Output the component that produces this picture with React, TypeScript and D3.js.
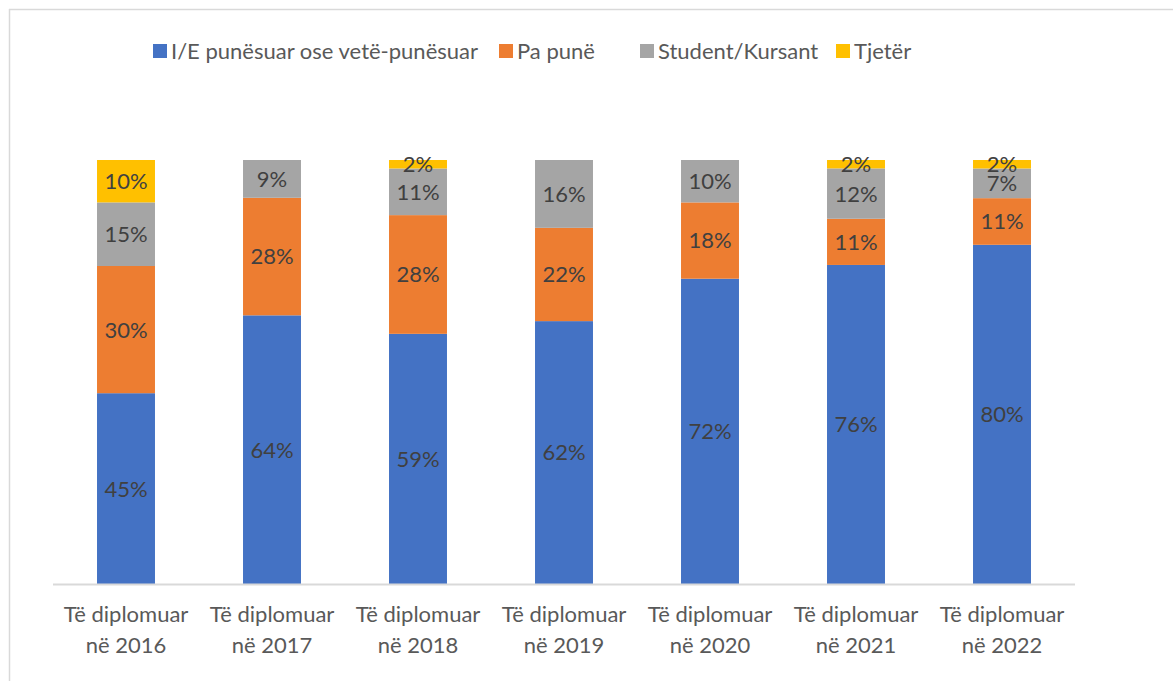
import React, { useEffect, useRef } from 'react';
import * as d3 from 'd3';

// categories (two-line axis labels)
const years = ['2016', '2017', '2018', '2019', '2020', '2021', '2022'];
const seriesNames = ['I/E punësuar ose vetë-punësuar', 'Pa punë', 'Student/Kursant', 'Tjetër'];
const colors = ['#4472C4', '#ED7D31', '#A5A5A5', '#FFC000'];

// values in percent, per series
const employed = [45, 64, 59, 62, 72, 76, 80];
const unemployed = [30, 28, 28, 22, 18, 11, 11];
const student = [15, 9, 11, 16, 10, 12, 7];
const other = [10, 0, 2, 0, 0, 2, 2];

const W = 1173, H = 681;

const App = () => {
  const ref = useRef(null);

  useEffect(() => {
    const svg = d3.select(ref.current);
    svg.selectAll('*').remove();

    const font = 'Lato, "Open Sans", sans-serif';
    const margin = { left: 53, right: 98, top: 160, bottom: 97 };
    const width = W - margin.left - margin.right;
    const height = H - margin.top - margin.bottom;

    // chart border (cut at top/left like the source)
    svg.append('line').attr('x1', 9).attr('x2', W).attr('y1', 9.5).attr('y2', 9.5)
      .attr('stroke', '#d9d9d9').attr('stroke-width', 1.5);
    svg.append('line').attr('x1', 9.5).attr('x2', 9.5).attr('y1', 9).attr('y2', H)
      .attr('stroke', '#d9d9d9').attr('stroke-width', 1.5);

    const g = svg.append('g').attr('transform', `translate(${margin.left},${margin.top})`);

    const x = d3.scaleBand().domain(years).range([0, width]).paddingInner(0.603).paddingOuter(0.3015);
    const y = d3.scaleLinear().domain([0, 1]).range([height, 0]);

    const rows = years.map((yr, i) => ({
      year: yr,
      s0: employed[i], s1: unemployed[i], s2: student[i], s3: other[i],
    }));
    const keys = ['s0', 's1', 's2', 's3'];
    const stack = d3.stack().keys(keys).offset(d3.stackOffsetExpand);
    const layers = stack(rows as any);

    layers.forEach((layer, li) => {
      const lg = g.append('g');
      lg.selectAll('rect')
        .data(layer.filter(d => d.data[keys[li]] > 0))
        .enter().append('rect')
        .attr('x', d => x(d.data.year))
        .attr('width', x.bandwidth())
        .attr('y', d => y(d[1]))
        .attr('height', d => y(d[0]) - y(d[1]))
        .attr('fill', colors[li]);
      lg.selectAll('text')
        .data(layer.filter(d => d.data[keys[li]] > 0))
        .enter().append('text')
        .attr('x', d => x(d.data.year) + x.bandwidth() / 2)
        .attr('y', d => (y(d[0]) + y(d[1])) / 2)
        .attr('dy', '0.36em')
        .attr('text-anchor', 'middle')
        .attr('font-family', font)
        .attr('font-size', 22)
        .attr('fill', '#404040')
        .text(d => d.data[keys[li]] + '%');
    });

    // x axis line
    g.append('line').attr('x1', 0).attr('x2', width).attr('y1', height + 0.5).attr('y2', height + 0.5)
      .attr('stroke', '#d9d9d9').attr('stroke-width', 2);

    // x axis labels
    const xl = g.selectAll('.xl').data(years).enter().append('text')
      .attr('text-anchor', 'middle')
      .attr('font-family', font)
      .attr('font-size', 22)
      .attr('fill', '#595959');
    xl.append('tspan').attr('x', d => x(d) + x.bandwidth() / 2).attr('y', height + 38).text('Të diplomuar');
    xl.append('tspan').attr('x', d => x(d) + x.bandwidth() / 2).attr('y', height + 69).text(d => 'në ' + d);

    // legend
    const legendX = [153, 499, 640, 836];
    const lg = svg.append('g');
    seriesNames.forEach((name, i) => {
      lg.append('rect').attr('x', legendX[i]).attr('y', 44).attr('width', 14).attr('height', 14).attr('fill', colors[i]);
      lg.append('text').attr('x', legendX[i] + 18).attr('y', 59)
        .attr('font-family', font).attr('font-size', 22).attr('fill', '#595959').text(name);
    });
  }, []);

  return (
    <svg ref={ref} width={W} height={H}
      style={{ position: 'absolute', left: 0, top: 0, background: '#fff' }} />
  );
};

export default App;
